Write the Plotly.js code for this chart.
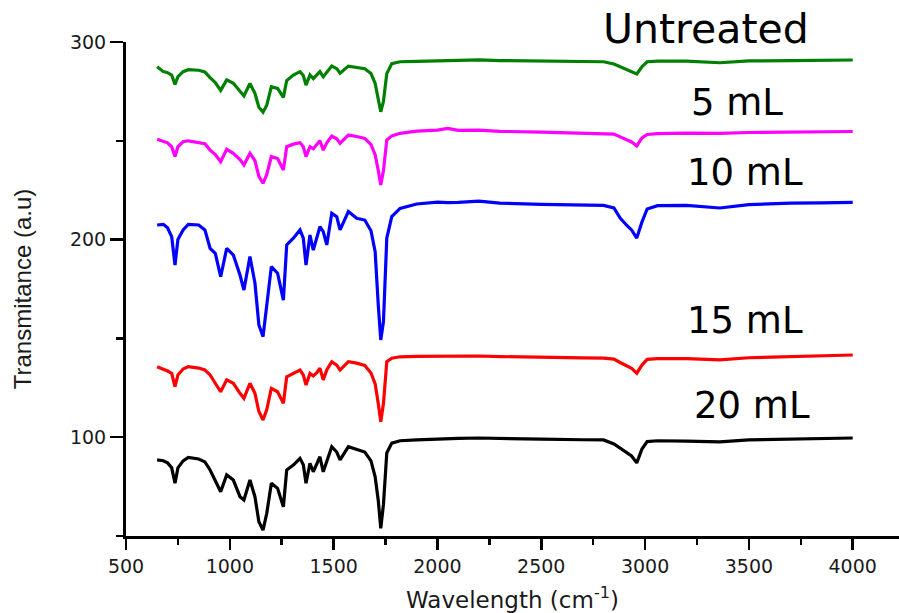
<!DOCTYPE html>
<html>
<head>
<meta charset="utf-8">
<script src="https://cdn.plot.ly/plotly-3.0.1.min.js"></script>
<style>html,body{margin:0;padding:0;background:#fff;}#chart{width:899px;height:613px;}</style>
</head>
<body>
<div id="chart"></div>
<script>
const wavenumber = [650,680,700,720,736,750,775,800,850,880,905,930,956,985,1017,1049,1068,1097,1121,1140,1160,1178,1200,1230,1258,1274,1306,1338,1354,1367,1386,1402,1418,1434,1450,1467,1491,1515,1531,1571,1611,1650,1680,1700,1715,1727,1740,1756,1780,1820,1900,2000,2050,2100,2200,2300,2500,2700,2800,2850,2880,2910,2935,2960,2985,3010,3060,3200,3360,3500,3700,3850,4000];

const untreated = [287.5,285,284.5,283.3,278.5,282.5,285,286,285.7,284.8,282,279.5,275.5,280.8,279.1,275,272.7,279,274,267,264.5,268,277.4,276.5,272,280.5,283.3,285,283,278.2,283.3,281.5,283.5,285,282.4,284.5,287.8,286.5,284.2,287.8,287.3,286.5,284,279,271,264.7,270,284,289,290,290.2,290.4,290.8,290.5,291,290.6,290.4,290.2,290,288.9,287.5,286.2,284.8,283.8,287.5,290,290.3,290.3,289.5,290.4,290.6,290.7,290.9];

const ml5 = [250.8,249.8,249,247,242,247,249.5,250,249.3,248.5,245.3,243,239.4,245.7,243.7,240.5,237.8,243.7,240,232,228.5,233,242,241,235.2,247,248.3,249,247,242,247,246,248,250,245.3,249,252.4,251,248.7,252.9,252.2,251.2,248,243,235,227.6,235,250.4,252.5,253.8,254.9,255.4,256.3,255.3,255.4,254.8,254.4,254,253.9,253.4,252,250.5,249.4,247.4,251.5,253.2,253.6,253.9,253.8,254.2,254.4,254.5,254.7];

const ml10 = [207.4,207.7,206,201.5,187.1,200,204.9,207.7,207.4,204.9,195.6,193.1,181.2,195.6,192.2,182.1,174.5,191.4,178,156.8,150.9,166.9,186.3,183,169.4,197.3,200.7,204.9,200.7,187.1,202.3,194.7,200.7,206.5,204,197.3,213.3,211.6,204.9,214.2,210.8,209.9,204.5,193.9,166.9,149.2,158.5,200.7,211.6,215.8,218,219,218.7,218.8,219.5,218.5,217.8,217.4,217.3,216,210.9,207.4,204.9,200.8,208.9,215.5,217.2,217.3,216,217.7,218.5,218.6,218.8];

const ml15 = [135.7,134.5,133.5,132.3,125.6,131.5,134.5,135.7,135,134,131.5,127.3,123,129,127.3,122.2,119.7,127.3,122.2,113,108.7,114,124.7,123,117.1,130.6,132.3,134,131.5,126.4,132.3,131,132.5,134.9,129,134,138.2,136.5,134,138.2,137.5,136.3,132.5,127,117,107.8,117,138.2,140,140.7,140.9,141.1,141.2,141,141.1,140.8,140.3,140.1,140,139.5,137.8,136,134.8,132.4,136.5,139.4,139.8,139.8,139.1,140.2,140.8,141.2,141.6];

const ml20 = [88.5,88.1,87,84.5,76.7,84.5,88,89.8,89,87.5,83.4,78.3,72.4,80.9,78.3,69.9,68.2,78.3,69.9,57.2,53,61.5,76.7,74.1,64.8,83.4,85.9,89.3,86,76.7,86.8,82.5,86,90.1,82.5,88,95.2,92.5,88.5,95.2,94,92.5,88,80,68,53.9,66,92,97,98.2,98.6,99.1,99.3,99.4,99.6,99.3,99,98.7,98.6,96.6,94.5,92.2,90.5,87,94,97.8,98.2,98,97.6,98.6,99.1,99.4,99.6];

const seriesNames = ["Untreated","5 mL","10 mL","15 mL","20 mL"];
const seriesValues = [untreated, ml5, ml10, ml15, ml20];
const seriesColors = ["#008000","#ff00ff","#0000ff","#ff0000","#000000"];

const xTickVals = [500,1000,1500,2000,2500,3000,3500,4000];
const yTickVals = [100,200,300];

const traces = seriesValues.map((v,i)=>({
  x: wavenumber, y: v, type:'scatter', mode:'lines', name: seriesNames[i],
  line:{color:seriesColors[i], width:3.2}, showlegend:false, hoverinfo:'skip'
}));

// label positions in paper coordinates (plot area: x 126..899, y 42..536)
function px(xp){return (xp-126)/773;}
function py(yp){return (536-yp)/494;}
const labelFont = {family:'DejaVu Sans, sans-serif', color:'#000'};
const annotations = [
  {text:'Untreated', x:px(706), y:py(29), size:41},
  {text:'5 mL', x:px(737), y:py(102), size:37},
  {text:'10 mL', x:px(745), y:py(172), size:37},
  {text:'15 mL', x:px(745), y:py(320), size:37},
  {text:'20 mL', x:px(752), y:py(405), size:37}
].map(a=>({text:a.text, x:a.x, y:a.y, xref:'paper', yref:'paper', xanchor:'center', yanchor:'middle', showarrow:false, font:Object.assign({}, labelFont, {size:a.size})}));

const layout = {
  width:899, height:613,
  margin:{l:126, r:0, t:42, b:77, pad:0},
  paper_bgcolor:'#fff', plot_bgcolor:'#fff',
  showlegend:false,
  xaxis:{
    range:[500,4223], tickvals:xTickVals, ticktext:xTickVals.map(String),
    showline:true, linecolor:'#000', linewidth:3, mirror:false,
    ticks:'outside', ticklen:11, tickwidth:2.5, tickcolor:'#000',
    minor:{tickvals:[750,1250,1750,2250,2750,3250,3750], ticks:'outside', ticklen:6, tickwidth:2.5, tickcolor:'#000', showgrid:false},
    showgrid:false, zeroline:false,
    tickfont:{family:'DejaVu Sans, sans-serif', size:19, color:'#1a1a1a'},
    title:{text:'Wavelength (cm<sup>-1</sup>)', font:{family:'DejaVu Sans, sans-serif', size:23, color:'#1a1a1a'}, standoff:17},
    automargin:false
  },
  yaxis:{
    range:[50,300], tickvals:yTickVals, ticktext:yTickVals.map(String),
    showline:true, linecolor:'#000', linewidth:3, mirror:false,
    ticks:'outside', ticklen:13, tickwidth:2.5, tickcolor:'#000',
    minor:{tickvals:[50,150,250], ticks:'outside', ticklen:7, tickwidth:2.5, tickcolor:'#000', showgrid:false},
    showgrid:false, zeroline:false,
    tickfont:{family:'DejaVu Sans, sans-serif', size:19, color:'#1a1a1a'},
    title:{text:'Transmitance (a.u)', font:{family:'Liberation Sans, Arial, sans-serif', size:24, color:'#1a1a1a'}, standoff:32},
    automargin:false
  },
  annotations: annotations
};

Plotly.newPlot('chart', traces, layout, {displayModeBar:false, staticPlot:true});
</script>
</body>
</html>
